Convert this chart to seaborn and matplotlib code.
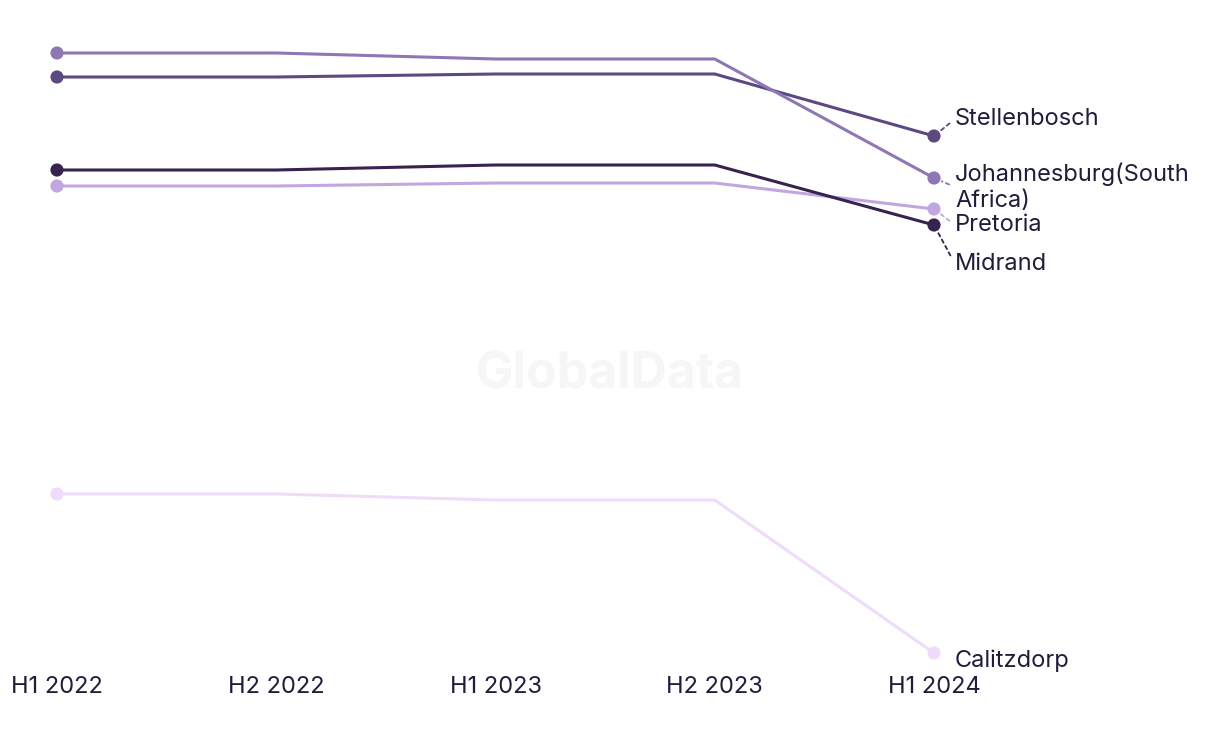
import pandas as pd
import matplotlib.pyplot as plt
import seaborn as sns

periods = ["H1 2022", "H2 2022", "H1 2023", "H2 2023", "H1 2024"]

johannesburg = [125.4, 125.4, 124.2, 124.2, 100.4]
stellenbosch = [120.6, 120.6, 121.2, 121.2, 108.8]
midrand = [102.0, 102.0, 103.0, 103.0, 91.0]
pretoria = [98.8, 98.8, 99.4, 99.4, 94.2]
calitzdorp = [37.2, 37.2, 36.0, 36.0, 5.4]

series = {
    "Calitzdorp": calitzdorp,
    "Pretoria": pretoria,
    "Midrand": midrand,
    "Stellenbosch": stellenbosch,
    "Johannesburg(South\nAfrica)": johannesburg,
}
colors = {
    "Calitzdorp": "#eedcfa",
    "Pretoria": "#c1a6e0",
    "Midrand": "#36234f",
    "Stellenbosch": "#5d4981",
    "Johannesburg(South\nAfrica)": "#8e77b3",
}
# label offsets in pixels from the last point
offsets = {
    "Calitzdorp": (21, -8),
    "Pretoria": (21, -16),
    "Midrand": (21, -39),
    "Stellenbosch": (21, 17),
    "Johannesburg(South\nAfrica)": (21, -9),
}

rows = []
for name, vals in series.items():
    for i, v in enumerate(vals):
        rows.append({"city": name, "x": i, "value": v})
df = pd.DataFrame(rows)

sns.set_style("white")
plt.rcParams["font.family"] = ["Inter", "DejaVu Sans"]
text_color = "#1f1d3a"

fig = plt.figure(figsize=(12.2, 7.44), dpi=100)
ax = fig.add_axes([57 / 1220, 74 / 744, 877 / 1220, 640 / 744])

fig.text(0.5, 0.496, "GlobalData", ha="center", va="center", fontsize=36,
         fontweight="bold", color="#f6f6f6", zorder=0)

sns.lineplot(data=df, x="x", y="value", hue="city", palette=colors,
             hue_order=list(series.keys()), linewidth=2.2, legend=False, ax=ax,
             clip_on=False)
ends = df[df["x"].isin([0, len(periods) - 1])]
sns.scatterplot(data=ends, x="x", y="value", hue="city", palette=colors,
                hue_order=list(series.keys()), s=90, linewidth=0, legend=False,
                ax=ax, clip_on=False, zorder=5)

last = len(periods) - 1
for name, vals in series.items():
    dx, dy = offsets[name]
    arrow = None
    if name != "Calitzdorp":
        arrow = dict(arrowstyle="-", linestyle=(0, (2, 2)), color=colors[name],
                     lw=1.3, shrinkA=2, shrinkB=6, relpos=(0, 0.5))
    ax.annotate(name, xy=(last, vals[-1]), xytext=(dx, dy),
                textcoords="offset pixels", ha="left", va="center",
                fontsize=17, color=text_color, linespacing=1.25,
                arrowprops=arrow, annotation_clip=False)

ax.set_xlim(0, last)
ax.set_ylim(2, 130)
ax.set_xticks(range(len(periods)))
ax.set_xticklabels(periods, fontsize=17, color=text_color)
ax.tick_params(axis="x", length=0, pad=4)
ax.set_yticks([])
ax.set_xlabel("")
ax.set_ylabel("")
sns.despine(ax=ax, left=True, bottom=True)

fig.savefig("out.png", dpi=100)
